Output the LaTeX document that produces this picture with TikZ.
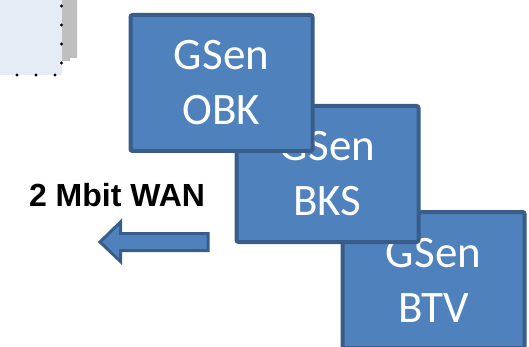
\documentclass[tikz,border=0pt]{standalone}
\usepackage{fontspec}
\setmainfont{Carlito}
\newfontfamily\arialfont{Liberation Sans}
\definecolor{boxfill}{HTML}{4F81BD}
\definecolor{boxline}{HTML}{385D8A}
\definecolor{paleblue}{HTML}{E5ECF6}
\definecolor{shadowgray}{HTML}{BFBFBF}
\tikzset{
  sitebox/.style={draw=boxline, fill=boxfill, line width=4pt, rounded corners=2pt,
    minimum width=182pt, minimum height=136pt, inner sep=0pt, outer sep=0pt,
    text=white, align=center, font=\fontsize{45pt}{55pt}\selectfont},
  wanarrow/.style={draw=boxline, fill=boxfill, line width=3pt, line join=miter},
  dotmark/.style={fill=black, draw=none},
  wanlabel/.style={font=\arialfont\bfseries\fontsize{32pt}{38pt}\selectfont, inner sep=0pt}
}
\begin{document}
\begin{tikzpicture}[x=1pt,y=-1pt]
\useasboundingbox (0,0) rectangle (529,347);
% top-left fragment
\fill[paleblue] (-5,-5) rectangle (62,75);
\fill[shadowgray] (62,-5) -- (77,-5) -- (77,58) -- (70,58) -- (70,61) -- (62,61) -- cycle;
\foreach \yy in {6,25,44,63} \fill[dotmark] (61.5,\yy) circle (1.7);
\foreach \xx in {17,36,55} \fill[dotmark] (\xx,75) circle (1.7);
% boxes
\node[sitebox] (btv) at (433.5,280) {GSen\\BTV};
\node[sitebox] (bks) at (327.5,174) {GSen\\BKS};
\node[sitebox] (obk) at (221.5,83) {GSen\\OBK};
% arrow
\draw[wanarrow] (208,233.5) -- (120.5,233.5) -- (120.5,222) -- (100,242) -- (120.5,261.5) -- (120.5,250.5) -- (208,250.5) -- cycle;
\node[wanlabel] (wan) at (117,195) {2 Mbit WAN};
\end{tikzpicture}
\end{document}
